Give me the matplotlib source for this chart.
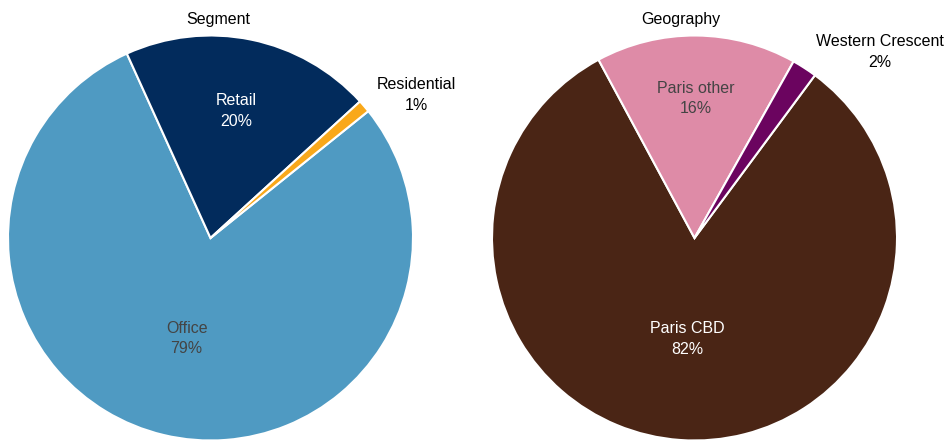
import numpy as np
import matplotlib.pyplot as plt

plt.rcParams['font.family'] = ['Liberation Sans', 'DejaVu Sans']

# Segment breakdown
segment_labels = ['Office', 'Retail', 'Residential']
segment_values = [79, 20, 1]
segment_colors = ['#4f9ac2', '#022b5c', '#f9a81a']

# Geography breakdown
geo_labels = ['Paris CBD', 'Paris other', 'Western Crescent']
geo_values = [82, 16, 2]
geo_colors = ['#4a2515', '#de8ba7', '#6b045f']

W, H = 947, 440
fig = plt.figure(figsize=(W / 100, H / 100), dpi=100)
ax = fig.add_axes([0, 0, 1, 1])
ax.set_xlim(0, W)
ax.set_ylim(0, H)
ax.set_aspect('equal')
ax.axis('off')

R = 202.5


def draw_pie(cx, cy, values, labels, colors, start, title, title_x,
             inside_dist, outside_pos, inside_color):
    wedges, _ = ax.pie(values, colors=colors, startangle=start, counterclock=False,
                       center=(cx, cy), radius=R, frame=True,
                       wedgeprops=dict(edgecolor='white', linewidth=1.5))
    for w, lab, val in zip(wedges, labels, values):
        txt = f'{lab}\n{val}%'
        if lab in outside_pos:
            x, y = outside_pos[lab]
            ax.text(x, H - y, txt, ha='center', va='center', fontsize=11.5,
                    color='black', linespacing=1.45)
            continue
        mid = np.deg2rad((w.theta1 + w.theta2) / 2)
        d = inside_dist[lab] * R
        ax.text(cx + d * np.cos(mid), cy + d * np.sin(mid), txt, ha='center',
                va='center', fontsize=11.5, color=inside_color[lab], linespacing=1.45)
    ax.text(title_x, H - 19, title, ha='center', va='center', fontsize=11.5, color='black')


draw_pie(210.5, H - 238, segment_values, segment_labels, segment_colors, 38.8,
         'Segment', 218,
         {'Office': 0.51, 'Retail': 0.64},
         {'Residential': (416, 95)},
         {'Office': '#444444', 'Retail': 'white'})

draw_pie(694.5, H - 238, geo_values, geo_labels, geo_colors, 53.5,
         'Geography', 681,
         {'Paris CBD': 0.50, 'Paris other': 0.69},
         {'Western Crescent': (880, 52)},
         {'Paris CBD': 'white', 'Paris other': '#444444'})

ax.set_xlim(0, W)
ax.set_ylim(0, H)
ax.axis('off')

fig.savefig('out.png', dpi=100)
